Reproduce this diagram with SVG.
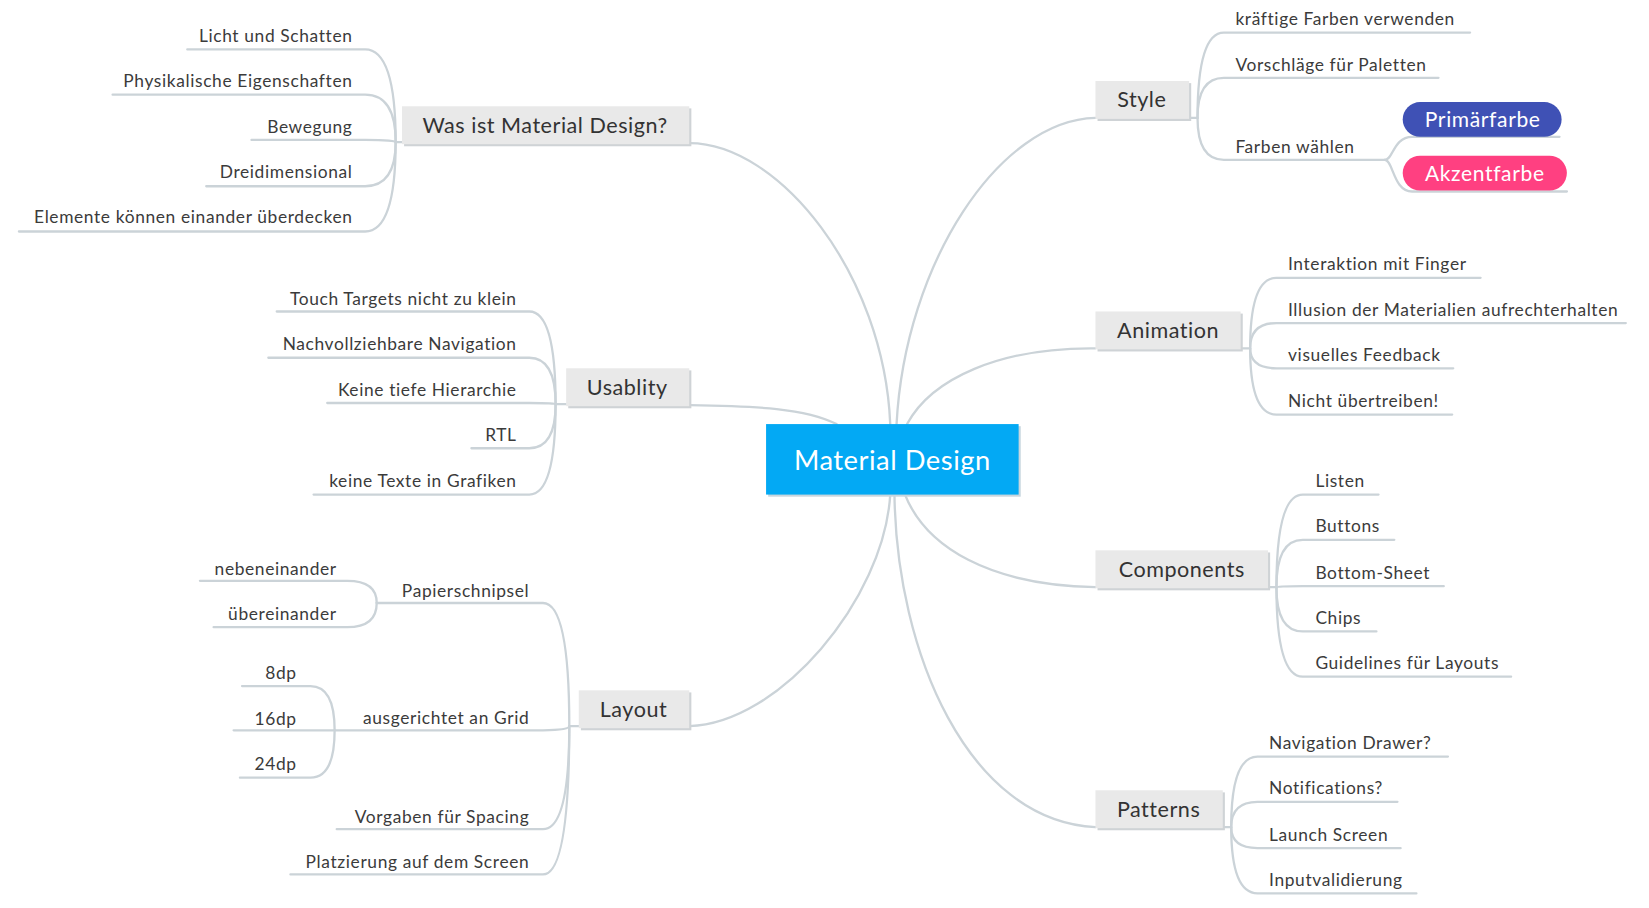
<svg xmlns="http://www.w3.org/2000/svg" width="1649" height="908" viewBox="0 0 1649 908">
<style>
.t{font-family:Lato,"Noto Sans","DejaVu Sans",sans-serif;font-size:16.5px;fill:#3b3b3b;letter-spacing:0.6px}
.m{font-family:Lato,"Noto Sans","DejaVu Sans",sans-serif;font-size:20.5px;fill:#333;letter-spacing:0.5px}
.c{font-family:Lato,"Noto Sans","DejaVu Sans",sans-serif;font-size:26px;fill:#fff;letter-spacing:0.5px}
.p{font-family:Lato,"Noto Sans","DejaVu Sans",sans-serif;font-size:20px;fill:#fff;letter-spacing:0.6px}
.ln{fill:none;stroke:#cbd3d8;stroke-width:2.2;stroke-linecap:round}
.box{fill:#e9e9e9}
.sh{fill:#cfd3d6}
</style>
<rect width="1649" height="908" fill="#fff"/>
<g transform="scale(1.0523)">
<g id="connectors">
<path class="ln" d="M655,136 C740,136 840,260 846,403"/>
<path class="ln" d="M655,385 C720,386 765,388 795,403"/>
<path class="ln" d="M655,690 C740,688 840,570 846,470"/>
<path class="ln" d="M1041,112 C950,114 860,250 852,403"/>
<path class="ln" d="M1041,331 C950,330 885,360 862,403"/>
<path class="ln" d="M1041,558 C940,556 880,520 860,470"/>
<path class="ln" d="M1041,786 C920,780 852,620 850,470"/>
<path class="ln" d="M178,47 H347 Q376,47 376,135"/>
<path class="ln" d="M107,90 H347 Q376,90 376,135"/>
<path class="ln" d="M239,133 H347 Q376,133 376,135 H382"/>
<path class="ln" d="M196,177 H347 Q376,177 376,135"/>
<path class="ln" d="M18,220 H347 Q376,220 376,135"/>
<path class="ln" d="M263,296 H503 Q528,296 528,384"/>
<path class="ln" d="M255,340 H503 Q528,340 528,384"/>
<path class="ln" d="M311,383 H503 Q528,383 528,384 H538"/>
<path class="ln" d="M448,426 H503 Q528,426 528,384"/>
<path class="ln" d="M298,470 H503 Q528,470 528,384"/>
<path class="ln" d="M358,573 H516 Q541,573 541,690"/>
<path class="ln" d="M318,694 H516 Q541,694 541,690 H550"/>
<path class="ln" d="M320,788 H516 Q541,788 541,690"/>
<path class="ln" d="M276,831 H516 Q541,831 541,690"/>
<path class="ln" d="M190,552 H330 Q358,552 358,573"/>
<path class="ln" d="M203,596 H330 Q358,596 358,573"/>
<path class="ln" d="M230,652 H295 Q318,652 318,694"/>
<path class="ln" d="M222,694 H318"/>
<path class="ln" d="M228,739 H295 Q318,739 318,694"/>
<path class="ln" d="M1130,112 H1138 Q1138,31 1163,31 H1397"/>
<path class="ln" d="M1138,112 Q1138,74 1163,74 H1367"/>
<path class="ln" d="M1138,112 Q1138,152 1163,152 H1316"/>
<path class="ln" d="M1316,152 C1324,152 1324,130 1342,130 H1482"/>
<path class="ln" d="M1316,152 C1324,152 1324,182 1342,182 H1489"/>
<path class="ln" d="M1179,331 H1188 Q1188,264 1213,264 H1407"/>
<path class="ln" d="M1188,331 Q1188,307 1213,307 H1545"/>
<path class="ln" d="M1188,331 Q1188,350 1213,350 H1381"/>
<path class="ln" d="M1188,331 Q1188,394 1213,394 H1380"/>
<path class="ln" d="M1205,558 H1213 Q1213,470 1238,470 H1310"/>
<path class="ln" d="M1213,558 Q1213,513 1238,513 H1325"/>
<path class="ln" d="M1213,558 Q1213,557 1238,557 H1372"/>
<path class="ln" d="M1213,558 Q1213,600 1238,600 H1308"/>
<path class="ln" d="M1213,558 Q1213,643 1238,643 H1436"/>
<path class="ln" d="M1162,786 H1170 Q1170,719 1195,719 H1376"/>
<path class="ln" d="M1170,786 Q1170,762 1195,762 H1328"/>
<path class="ln" d="M1170,786 Q1170,806 1195,806 H1331"/>
<path class="ln" d="M1170,786 Q1170,849 1195,849 H1346"/>
</g>
<g id="center">
<rect x="730" y="405" width="240" height="67" fill="#c8d6de"/>
<rect x="728" y="403" width="240" height="67" fill="#03a9f4"/>
<text class="c" x="848" y="447" text-anchor="middle">Material Design</text>
</g>
<g id="was-ist">
<rect class="sh" x="384" y="103" width="273" height="36"/>
<rect class="box" x="382" y="101" width="273" height="36"/>
<text class="m" x="518" y="126" text-anchor="middle">Was ist Material Design?</text>
</g>
<g id="was-ist-children">
<text class="t" x="335" y="40" text-anchor="end">Licht und Schatten</text>
<text class="t" x="335" y="83" text-anchor="end">Physikalische Eigenschaften</text>
<text class="t" x="335" y="126" text-anchor="end">Bewegung</text>
<text class="t" x="335" y="169" text-anchor="end">Dreidimensional</text>
<text class="t" x="335" y="212" text-anchor="end">Elemente können einander überdecken</text>
</g>
<g id="usablity">
<rect class="sh" x="540" y="352" width="117" height="36"/>
<rect class="box" x="538" y="350" width="117" height="36"/>
<text class="m" x="596" y="375" text-anchor="middle">Usablity</text>
</g>
<g id="usablity-children">
<text class="t" x="491" y="290" text-anchor="end">Touch Targets nicht zu klein</text>
<text class="t" x="491" y="333" text-anchor="end">Nachvollziehbare Navigation</text>
<text class="t" x="491" y="376" text-anchor="end">Keine tiefe Hierarchie</text>
<text class="t" x="491" y="419" text-anchor="end">RTL</text>
<text class="t" x="491" y="463" text-anchor="end">keine Texte in Grafiken</text>
</g>
<g id="layout">
<rect class="sh" x="552" y="658" width="105" height="36"/>
<rect class="box" x="550" y="656" width="105" height="36"/>
<text class="m" x="602" y="681" text-anchor="middle">Layout</text>
</g>
<g id="layout-children">
<text class="t" x="503" y="567" text-anchor="end">Papierschnipsel</text>
<text class="t" x="320" y="546" text-anchor="end">nebeneinander</text>
<text class="t" x="320" y="589" text-anchor="end">übereinander</text>
<text class="t" x="503" y="688" text-anchor="end">ausgerichtet an Grid</text>
<text class="t" x="282" y="645" text-anchor="end">8dp</text>
<text class="t" x="282" y="689" text-anchor="end">16dp</text>
<text class="t" x="282" y="732" text-anchor="end">24dp</text>
<text class="t" x="503" y="782" text-anchor="end">Vorgaben für Spacing</text>
<text class="t" x="503" y="825" text-anchor="end">Platzierung auf dem Screen</text>
</g>
<g id="style">
<rect class="sh" x="1043" y="79" width="89" height="36"/>
<rect class="box" x="1041" y="77" width="89" height="36"/>
<text class="m" x="1085" y="102" text-anchor="middle">Style</text>
</g>
<g id="style-children">
<text class="t" x="1174" y="24">kräftige Farben verwenden</text>
<text class="t" x="1174" y="67">Vorschläge für Paletten</text>
<text class="t" x="1174" y="145">Farben wählen</text>
</g>
<g id="primaerfarbe">
<rect x="1333" y="97" width="151" height="33" rx="16.5" fill="#3f51b5"/>
<text class="p" x="1409" y="121" text-anchor="middle">Primärfarbe</text>
</g>
<g id="akzentfarbe">
<rect x="1333" y="148" width="156" height="33" rx="16.5" fill="#ff4081"/>
<text class="p" x="1411" y="172" text-anchor="middle">Akzentfarbe</text>
</g>
<g id="animation">
<rect class="sh" x="1043" y="298" width="138" height="36"/>
<rect class="box" x="1041" y="296" width="138" height="36"/>
<text class="m" x="1110" y="321" text-anchor="middle">Animation</text>
</g>
<g id="animation-children">
<text class="t" x="1224" y="257">Interaktion mit Finger</text>
<text class="t" x="1224" y="300">Illusion der Materialien aufrechterhalten</text>
<text class="t" x="1224" y="343">visuelles Feedback</text>
<text class="t" x="1224" y="387">Nicht übertreiben!</text>
</g>
<g id="components">
<rect class="sh" x="1043" y="525" width="164" height="36"/>
<rect class="box" x="1041" y="523" width="164" height="36"/>
<text class="m" x="1123" y="548" text-anchor="middle">Components</text>
</g>
<g id="components-children">
<text class="t" x="1250" y="463">Listen</text>
<text class="t" x="1250" y="506">Buttons</text>
<text class="t" x="1250" y="550">Bottom-Sheet</text>
<text class="t" x="1250" y="593">Chips</text>
<text class="t" x="1250" y="636">Guidelines für Layouts</text>
</g>
<g id="patterns">
<rect class="sh" x="1043" y="753" width="121" height="36"/>
<rect class="box" x="1041" y="751" width="121" height="36"/>
<text class="m" x="1101" y="776" text-anchor="middle">Patterns</text>
</g>
<g id="patterns-children">
<text class="t" x="1206" y="712">Navigation Drawer?</text>
<text class="t" x="1206" y="755">Notifications?</text>
<text class="t" x="1206" y="799">Launch Screen</text>
<text class="t" x="1206" y="842">Inputvalidierung</text>
</g>
</g>
</svg>
